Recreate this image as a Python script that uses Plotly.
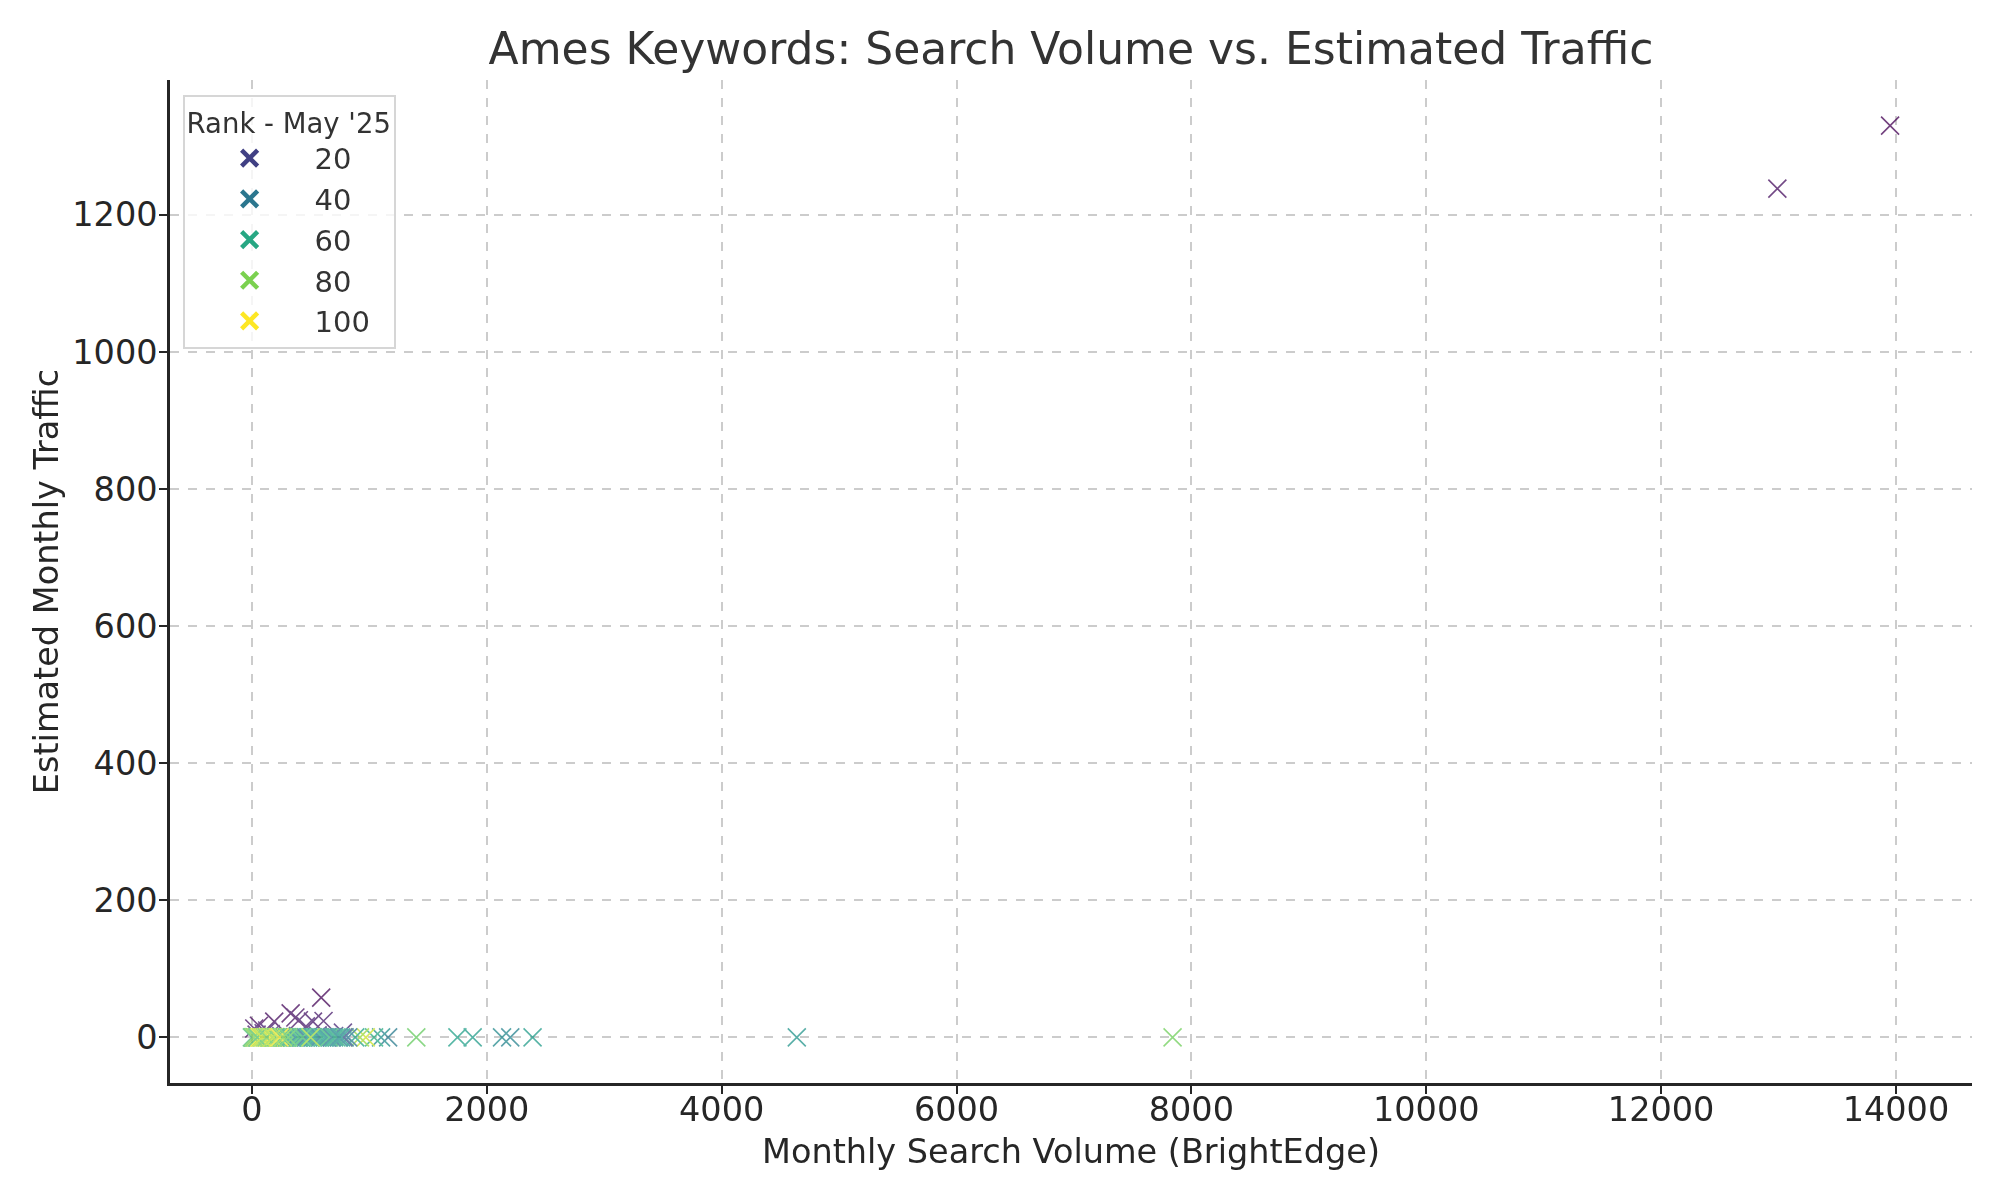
import plotly.graph_objects as go
from plotly.colors import sample_colorscale

# keyword rows: monthly search volume, estimated traffic, rank in May '25
volume = [
    13950, 12990,
    590, 330, 370, 400, 190, 520, 610, 460, 60, 20,
    130, 775, 100, 160, 40, 560, 250, 700,
    7840, 4640, 2390, 2200, 2130, 1880, 1750, 1400, 1160, 1100,
    1040, 970, 920, 880, 820, 790, 780, 340, 150, 540,
    0, 10, 10, 20, 20, 30, 30, 40, 50, 50,
    60, 70, 70, 80, 90, 100, 110, 120, 130, 140,
    150, 160, 170, 180, 190, 200, 210, 220, 230, 240,
    250, 260, 270, 280, 290, 300, 320, 340, 350, 370,
    390, 400, 420, 440, 460, 480, 500, 520, 540, 560,
    580, 600, 620, 640, 660, 680, 700, 720, 740, 760,
    15, 45, 85, 125, 175, 235, 265, 310, 430, 500,
]
traffic = [
    1330, 1238,
    58, 35, 29, 25, 23, 23, 24, 16, 17, 13,
    10, 7, 6, 5, 4, 3, 2, 2,
    0, 0, 0, 0, 0, 0, 0, 0, 0, 0,
    0, 0, 0, 0, 0, 0, 0, 0, 0, 0,
    0, 0, 0, 0, 0, 0, 0, 0, 0, 0,
    0, 0, 0, 0, 0, 0, 0, 0, 0, 0,
    0, 0, 0, 0, 0, 0, 0, 0, 0, 0,
    0, 0, 0, 0, 0, 0, 0, 0, 0, 0,
    0, 0, 0, 0, 0, 0, 0, 0, 0, 0,
    0, 0, 0, 0, 0, 0, 0, 0, 0, 0,
    0, 0, 0, 0, 0, 0, 0, 0, 0, 0,
]
rank = [
    1, 4,
    2, 3, 5, 6, 4, 7, 8, 9, 3, 5,
    8, 12, 10, 11, 9, 14, 13, 15,
    78, 52, 55, 45, 48, 55, 57, 76, 42, 50,
    62, 92, 84, 58, 40, 47, 25, 30, 35, 33,
    70, 85, 60, 95, 75, 88, 65, 98, 80, 68,
    92, 72, 100, 86, 64, 96, 78, 99, 90, 97,
    82, 100, 94, 74, 98, 88, 66, 93, 79, 58,
    84, 62, 71, 55, 90, 67, 52, 61, 73, 45,
    59, 69, 50, 64, 38, 57, 66, 48, 60, 54,
    43, 63, 56, 49, 68, 41, 58, 62, 46, 53,
    80, 72, 90, 76, 86, 97, 81, 75, 70, 85,
]

legend_ranks = [20, 40, 60, 80, 100]
rank_min, rank_max = 1, 100

font = "DejaVu Sans"
ink = "#262626"

fig = go.Figure()

fig.add_trace(go.Scatter(
    x=volume,
    y=traffic,
    mode="markers",
    showlegend=False,
    opacity=0.75,
    marker=dict(
        symbol="x-thin",
        size=18,
        color=rank,
        colorscale="Viridis",
        cmin=rank_min,
        cmax=rank_max,
        line=dict(color=rank, colorscale="Viridis", cmin=rank_min, cmax=rank_max, width=1.6),
    ),
))

# legend handles, one per rank level
for r in legend_ranks:
    c = sample_colorscale("Viridis", [(r - rank_min) / (rank_max - rank_min)])[0]
    fig.add_trace(go.Scatter(
        x=[None],
        y=[None],
        mode="markers",
        name=str(r),
        marker=dict(symbol="x-thin", size=16, color=c, line=dict(color=c, width=4.5)),
    ))

axis_common = dict(
    showline=True,
    linecolor=ink,
    linewidth=2.5,
    ticks="outside",
    ticklen=8,
    tickwidth=2,
    tickcolor=ink,
    tickfont=dict(family=font, size=33.5, color=ink),
    tickformat="d",
    showgrid=True,
    gridcolor="#cccccc",
    gridwidth=1.5,
    griddash="dash",
    zeroline=False,
    mirror=False,
)

fig.update_xaxes(
    range=[-697.5, 14647.5],
    dtick=2000,
    ticklabelstandoff=-13,
    title=dict(text="Monthly Search Volume (BrightEdge)", font=dict(family=font, size=33.5, color=ink), standoff=12),
    **axis_common,
)
fig.update_yaxes(
    range=[-66.5, 1396.5],
    dtick=200,
    ticklabelstandoff=-5,
    title=dict(text="Estimated Monthly Traffic", font=dict(family=font, size=33.5, color=ink), standoff=4),
    **axis_common,
)

fig.update_layout(
    width=2000,
    height=1200,
    margin=dict(l=162, r=36, t=72, b=125),
    paper_bgcolor="white",
    plot_bgcolor="white",
    font=dict(family=font, color=ink),
    title=dict(
        text="Ames Keywords: Search Volume vs. Estimated Traffic",
        font=dict(family=font, size=44, color="#333333"),
        x=0.5,
        xref="paper",
        xanchor="center",
        y=1 - 41 / 1200,
        yref="container",
        yanchor="middle",
    ),
    legend=dict(
        title=dict(text="Rank - May '25", font=dict(family=font, size=27.5, color="#333333"), side="top"),
        font=dict(family=font, size=29, color="#333333"),
        x=0.007,
        y=0.985,
        xanchor="left",
        yanchor="top",
        bgcolor="rgba(255,255,255,0.8)",
        bordercolor="#d6d6d6",
        borderwidth=2,
        itemwidth=120,
    ),
)

fig.write_html("out.html")
